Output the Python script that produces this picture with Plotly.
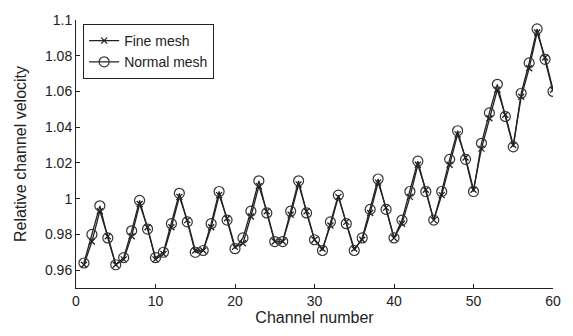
import plotly.graph_objects as go

channels = list(range(1, 61))
normal_mesh = [0.964, 0.980, 0.996, 0.978, 0.963, 0.967, 0.982, 0.999, 0.983, 0.967,
               0.970, 0.986, 1.003, 0.987, 0.970, 0.971, 0.986, 1.004, 0.988, 0.972,
               0.978, 0.993, 1.010, 0.992, 0.976, 0.976, 0.993, 1.010, 0.992, 0.977,
               0.971, 0.987, 1.002, 0.986, 0.971, 0.978, 0.994, 1.011, 0.994, 0.978,
               0.988, 1.004, 1.021, 1.004, 0.988, 1.004, 1.022, 1.038, 1.022, 1.004,
               1.031, 1.048, 1.064, 1.046, 1.029, 1.059, 1.076, 1.095, 1.078, 1.060]
fine_mesh = [0.963, 0.976, 0.993, 0.979, 0.963, 0.966, 0.979, 0.997, 0.984, 0.966,
             0.969, 0.984, 1.001, 0.988, 0.971, 0.971, 0.984, 1.002, 0.989, 0.973,
             0.975, 0.990, 1.007, 0.993, 0.976, 0.976, 0.991, 1.008, 0.993, 0.977,
             0.972, 0.985, 1.001, 0.987, 0.972, 0.977, 0.992, 1.009, 0.995, 0.978,
             0.986, 1.001, 1.019, 1.005, 0.988, 1.002, 1.019, 1.036, 1.023, 1.005,
             1.028, 1.045, 1.061, 1.047, 1.030, 1.057, 1.073, 1.093, 1.079, 1.061]
y_ticks = [0.96, 0.98, 1.0, 1.02, 1.04, 1.06, 1.08, 1.1]
y_tick_labels = ["0.96", "0.98", "1", "1.02", "1.04", "1.06", "1.08", "1.1"]
x_ticks = [0, 10, 20, 30, 40, 50, 60]

fig = go.Figure()
fig.add_trace(go.Scatter(
    x=channels, y=fine_mesh, mode="lines+markers", name="Fine mesh",
    line=dict(color="#222222", width=1.3),
    marker=dict(symbol="x-thin-open", size=6, line=dict(color="#222222", width=1.3)),
))
fig.add_trace(go.Scatter(
    x=channels, y=normal_mesh, mode="lines+markers", name="Normal mesh",
    line=dict(color="#222222", width=1.3),
    marker=dict(symbol="circle-open", size=10, color="#333333", line=dict(width=1.2)),
))

fig.update_layout(
    width=573, height=336,
    margin=dict(l=76, r=18, t=12, b=48),
    paper_bgcolor="white", plot_bgcolor="white",
    font=dict(family="Liberation Sans, Arial, sans-serif", size=14, color="#222222"),
    showlegend=True,
    legend=dict(x=0.015, y=0.985, xanchor="left", yanchor="top",
                bordercolor="#222222", borderwidth=1, bgcolor="white",
                font=dict(size=14), tracegroupgap=0),
)
fig.update_xaxes(
    range=[0, 60], tickvals=x_ticks, ticks="inside", ticklen=4, tickcolor="#222222",
    showline=True, linecolor="#222222", linewidth=1, showgrid=False, zeroline=False,
    tickfont=dict(size=14),
    title=dict(text="Channel number", font=dict(size=16), standoff=4),
)
fig.update_yaxes(
    range=[0.95, 1.1], tickvals=y_ticks, ticktext=y_tick_labels, ticks="inside",
    ticklen=4, tickcolor="#222222", tickfont=dict(size=14),
    showline=True, linecolor="#222222", linewidth=1, showgrid=False, zeroline=False,
    title=dict(text="Relative channel velocity", font=dict(size=16), standoff=14),
)

fig.write_html("out.html")
